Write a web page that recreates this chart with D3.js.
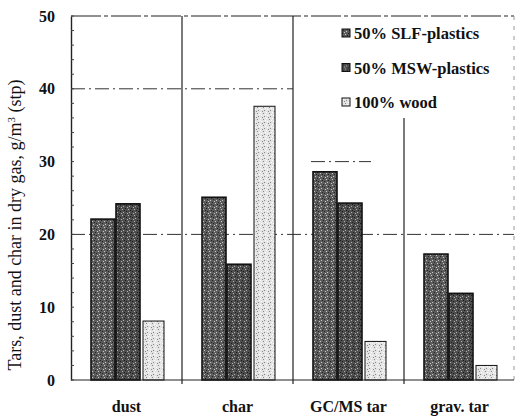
<!DOCTYPE html>
<html>
<head>
<meta charset="utf-8">
<script src="https://cdn.jsdelivr.net/npm/d3@7"></script>
<style>
  body { margin: 0; background: #fff; }
  svg text { font-family: "Liberation Serif", "Times New Roman", serif; }
  .axis text { font-size: 16px; font-weight: bold; fill: #111; }
</style>
</head>
<body>
<svg width="516" height="418"></svg>
<script>
// data
var categories = ["dust", "char", "GC/MS tar", "grav. tar"];
var series = ["50% SLF-plastics", "50% MSW-plastics", "100% wood"];
var slf = [22.1, 25.1, 28.6, 17.3];
var msw = [24.2, 15.9, 24.3, 11.9];
var wood = [8.1, 37.6, 5.3, 2.0];
var yTicks = [0, 10, 20, 30, 40, 50];

var values = [slf, msw, wood];
var data = categories.map(function(c, i) {
  return { cat: c, vals: series.map(function(s, j) { return { s: s, v: values[j][i] }; }) };
});

// define margins and canvas
var svg = d3.select("svg"),
  margin = { top: 16, right: 2, bottom: 38, left: 71 },
  width = svg.attr("width") - margin.left - margin.right,
  height = svg.attr("height") - margin.top - margin.bottom,
  g = svg.append("g").attr("transform", "translate(" + margin.left + "," + margin.top + ")");

// scanned-looking fills
var defs = svg.append("defs");
function stipple(id, base, dot, dot2) {
  var p = defs.append("pattern").attr("id", id)
    .attr("patternUnits", "userSpaceOnUse").attr("width", 6).attr("height", 6);
  p.append("rect").attr("width", 6).attr("height", 6).attr("fill", base);
  [[0, 0], [3, 1], [1, 3], [4, 4], [5, 2], [2, 5]].forEach(function(d, i) {
    p.append("rect").attr("x", d[0]).attr("y", d[1]).attr("width", 1).attr("height", 1)
      .attr("fill", i % 2 ? dot : dot2);
  });
}
stipple("pSLF", "#5c5c5c", "#c8c8c8", "#222");
stipple("pMSW", "#4e4e4e", "#b0b0b0", "#1a1a1a");
stipple("pWood", "#e4e4e4", "#888", "#fff");
var color = d3.scaleOrdinal().domain(series).range(["url(#pSLF)", "url(#pMSW)", "url(#pWood)"]);

// scales
var x0 = d3.scaleBand().domain(categories).range([0, 111 * 4]);
var x1 = d3.scaleBand().domain(series).range([20, 95]);
var y = d3.scaleLinear().domain([0, 50]).range([height, 0]);

// grid lines (dash-dot, as in the scan); only parts survived the scan
var grid = [
  { v: 20, start: 0, end: width },
  { v: 40, start: 0, end: x0("GC/MS tar") },
  { v: 30, start: x0("GC/MS tar") + 18, end: x0("GC/MS tar") + 78 }
];
g.selectAll(".grid").data(grid).enter().append("line")
  .attr("x1", function(d) { return d.start; }).attr("x2", function(d) { return d.end; })
  .attr("y1", function(d) { return y(d.v); }).attr("y2", function(d) { return y(d.v); })
  .attr("stroke", "#333").attr("stroke-width", 1)
  .attr("stroke-dasharray", "14,4,2,4");

// category dividers
g.selectAll(".div").data(categories.slice(1)).enter().append("line")
  .attr("x1", function(d) { return x0(d); }).attr("x2", function(d) { return x0(d); })
  .attr("y1", function(d, i) { return i == 2 ? y(36) : 0; }).attr("y2", height + 4)
  .attr("stroke", "#222").attr("stroke-width", 1.2);

// frame top + right
g.append("line").attr("x1", 0).attr("x2", width).attr("y1", 0).attr("y2", 0)
  .attr("stroke", "#222").attr("stroke-width", 1.2).attr("stroke-dasharray", "30,3,4,3");
g.append("line").attr("x1", width).attr("x2", width).attr("y1", 0).attr("y2", height)
  .attr("stroke", "#999").attr("stroke-dasharray", "4,6");

// bars
var groups = g.selectAll(".grp").data(data).enter().append("g")
  .attr("transform", function(d) { return "translate(" + x0(d.cat) + ",0)"; });

groups.selectAll("rect").data(function(d) { return d.vals; }).enter().append("rect")
  .attr("x", function(d, i) { return x1(d.s) + (i == 2 ? 2 : 0); })
  .attr("width", function(d, i) { return x1.bandwidth() - (i == 2 ? 4 : 1); })
  .attr("y", function(d) { return y(d.v); })
  .attr("height", function(d) { return height - y(d.v); })
  .attr("fill", function(d) { return color(d.s); })
  .attr("stroke", "#111")
  .attr("stroke-width", function(d, i) { return i == 2 ? 1 : 1.6; });

// baseline
g.append("line").attr("x1", 0).attr("x2", width).attr("y1", height).attr("y2", height)
  .attr("stroke", "#222").attr("stroke-width", 1.2);

// y axis
g.append("g")
  .attr("class", "axis")
  .call(d3.axisLeft(y).tickValues(yTicks).tickSize(0).tickPadding(16))
  .call(function(a) {
    a.attr("font-family", null).attr("font-size", null);
    a.select(".domain").attr("stroke", "#222").attr("stroke-width", 1.4);
  });

// minor ticks on the y axis
g.selectAll(".minor").data(d3.range(0, 51, 2)).enter().append("line")
  .attr("x1", 0).attr("x2", 3)
  .attr("y1", function(d) { return y(d); }).attr("y2", function(d) { return y(d); })
  .attr("stroke", "#444");

// x axis labels
g.append("g")
  .attr("class", "axis")
  .attr("transform", "translate(0," + height + ")")
  .call(d3.axisBottom(x0).tickSize(0).tickPadding(21))
  .call(function(a) {
    a.attr("font-family", null).attr("font-size", null);
    a.select(".domain").remove();
  });

// y axis title
svg.append("text")
  .attr("transform", "translate(21,225) rotate(-90)")
  .attr("text-anchor", "middle")
  .style("font-size", "18px").style("fill", "#111")
  .html("Tars, dust and char in dry gas, g/m<tspan baseline-shift='super' font-size='11px'>3</tspan> (stp)");

// legend
var legend = svg.append("g").attr("transform", "translate(342,33)");
var items = legend.selectAll("g").data(series).enter().append("g")
  .attr("transform", function(d, i) { return "translate(0," + i * 34.5 + ")"; });
items.append("rect").attr("x", 0).attr("y", -4).attr("width", 8).attr("height", 8)
  .attr("fill", function(d) { return color(d); }).attr("stroke", "#111").attr("stroke-width", 1);
items.append("text").attr("x", 12).attr("y", 6)
  .style("font-size", "16.5px").style("font-weight", "bold").style("fill", "#111")
  .text(function(d) { return d; });
</script>
</body>
</html>
